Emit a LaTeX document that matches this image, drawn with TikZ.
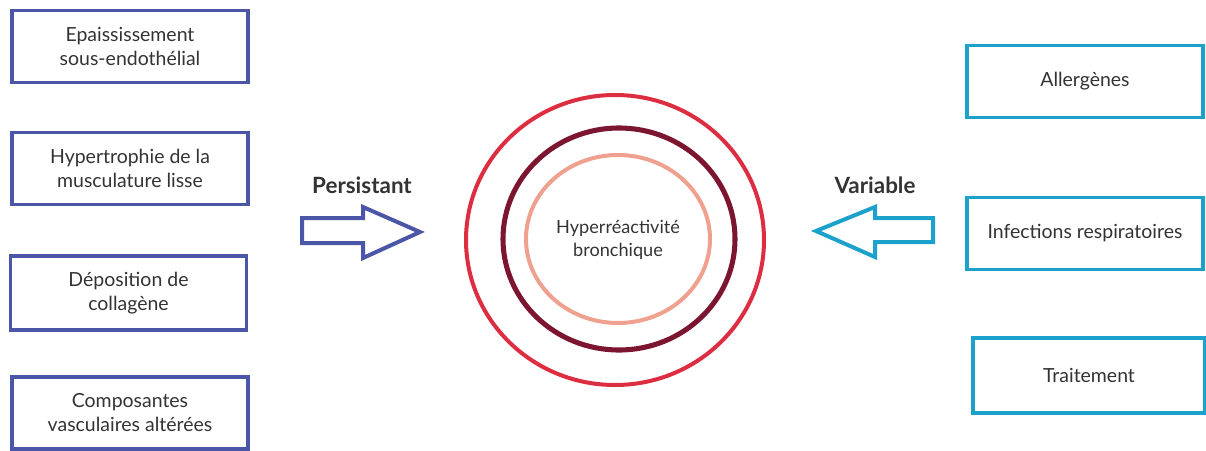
\documentclass[tikz,border=0pt]{standalone}
\usepackage{fontspec}
\setmainfont{Lato}
\definecolor{lblue}{HTML}{4B56A6}
\definecolor{rcyan}{HTML}{1BA1CB}
\definecolor{ored}{HTML}{DC2D41}
\definecolor{dred}{HTML}{7B1530}
\definecolor{salm}{HTML}{EFA08E}
\definecolor{txt}{HTML}{333333}
\begin{document}
\begin{tikzpicture}[x=0.75pt,y=-0.75pt,
  lbox/.style={draw=lblue,line width=2.4pt,minimum width=177pt,minimum height=54pt,align=center,text=txt,font=\fontsize{14.6}{18}\selectfont,inner sep=0pt},
  rbox/.style={draw=rcyan,line width=2.6pt,minimum width=177pt,minimum height=54pt,align=center,text=txt,font=\fontsize{14.6}{18}\selectfont,inner sep=0pt},
  ring/.style={line width=3pt},
  lab/.style={text=txt,font=\bfseries\fontsize{16.8}{20}\selectfont}]
\useasboundingbox (0,0) rectangle (1206,450);
% left boxes
\node[lbox] (l1) at (130,46.5) {Epaississement\\sous-endoth\'elial};
\node[lbox] (l2) at (130,168.5) {Hypertrophie de la\\musculature lisse};
\node[lbox,minimum height=55.5pt] (l3) at (128.5,293) {D\'eposition de\\collag\`ene};
\node[lbox] (l4) at (130,413) {Composantes\\vasculaires alt\'er\'ees};
% right boxes
\node[rbox] (r1) at (1085,81.5) {Allerg\`enes};
\node[rbox] (r2) at (1085,233.5) {Infections respiratoires};
\node[rbox,minimum width=174pt,minimum height=56pt] (r3) at (1089,375.5) {Traitement};
% circles
\draw[ring,draw=ored] (615,240) ellipse [x radius=149, y radius=145];
\draw[ring,draw=dred,line width=3.8pt] (619,239) ellipse [x radius=116, y radius=111];
\draw[ring,draw=salm] (618,239) ellipse [x radius=92, y radius=84];
\node[text=txt,align=center,font=\fontsize{13.6}{17.5}\selectfont] (c) at (618,240) {Hyperr\'eactivit\'e\\bronchique};
% arrows
\draw[draw=lblue,line width=3pt,line join=miter] (302,218) -- (363,218) -- (363,207) -- (420,232) -- (363,258) -- (363,243) -- (302,243) -- cycle;
\node[lab] (p) at (362,185) {Persistant};
\draw[draw=rcyan,line width=3pt,line join=miter] (933,218) -- (875,218) -- (875,207) -- (816,231) -- (875,257) -- (875,242) -- (933,242) -- cycle;
\node[lab] (v) at (875,185) {Variable};
\end{tikzpicture}
\end{document}
